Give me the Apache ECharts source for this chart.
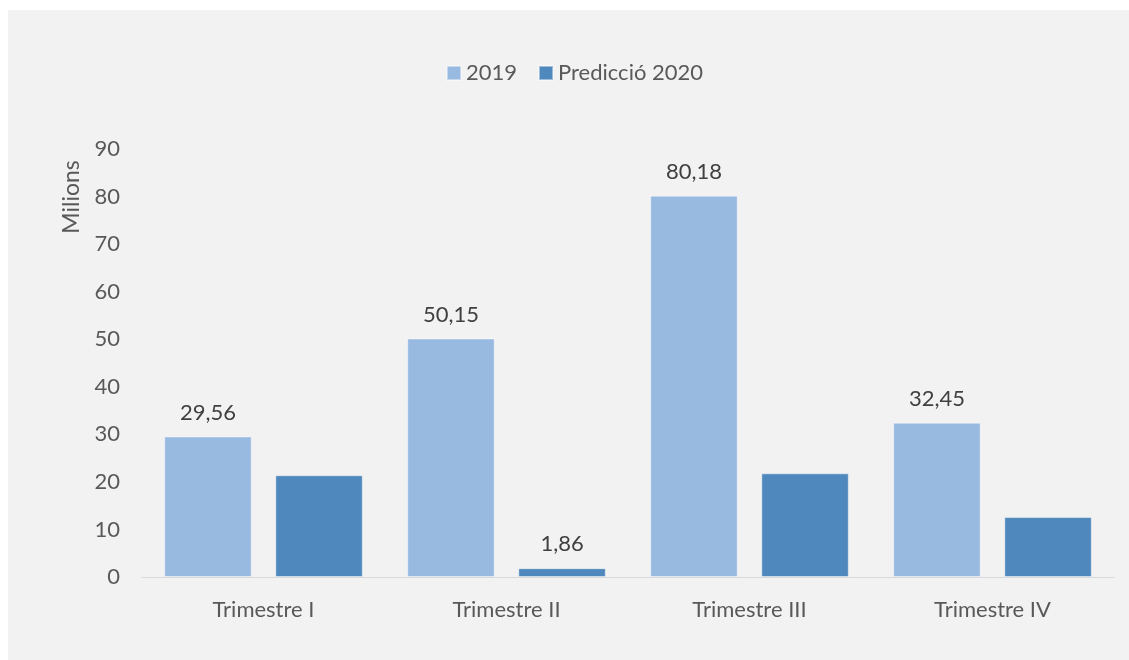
<!DOCTYPE html>
<html>
<head>
<meta charset="utf-8">
<script src="https://cdn.jsdelivr.net/npm/echarts@6/dist/echarts.min.js"></script>
<style>
  html, body { margin: 0; padding: 0; background: #ffffff; overflow: hidden; width: 100%; height: 100%; }
  #chart { position: absolute; left: 8px; top: 10px; right: 0; bottom: 0; }
</style>
</head>
<body>
<div id="chart"></div>
<script>
const categories = ['Trimestre I', 'Trimestre II', 'Trimestre III', 'Trimestre IV'];
const values2019 = [29.56, 50.15, 80.18, 32.45];
const values2020 = [21.4, 1.86, 21.8, 12.6];
const labeled2020 = [false, true, false, false];
const seriesNames = ['2019', 'Predicció 2020'];
const yTicks = [0, 10, 20, 30, 40, 50, 60, 70, 80, 90];
const yAxisTitle = 'Milions';

const FONT = 'Lato';
const FS = 22;
const fmt = v => String(v).replace('.', ',');

const chart = echarts.init(document.getElementById('chart'), null, { renderer: 'canvas' });
chart.setOption({
  backgroundColor: '#f2f2f2',
  textStyle: { fontFamily: FONT },
  legend: {
    top: 47,
    left: 433,
    itemWidth: 14,
    itemHeight: 14,
    itemGap: 21,
    icon: 'rect',
    textStyle: { fontFamily: FONT, fontSize: FS, color: '#595959' },
    data: seriesNames
  },
  grid: { left: 134, right: 15, top: 139, bottom: 83, containLabel: false },
  xAxis: {
    type: 'category',
    data: categories,
    axisLine: { lineStyle: { color: '#d9d9d9', width: 1 } },
    axisTick: { show: false },
    axisLabel: { fontFamily: FONT, fontSize: FS, color: '#595959', margin: 22 }
  },
  yAxis: {
    type: 'value',
    min: yTicks[0],
    max: yTicks[yTicks.length - 1],
    interval: yTicks[1] - yTicks[0],
    axisLine: { show: false },
    axisTick: { show: false },
    splitLine: { show: false },
    axisLabel: { fontFamily: FONT, fontSize: FS, color: '#595959', margin: 22 }
  },
  graphic: [{
    type: 'text',
    x: 64,
    y: 187,
    rotation: Math.PI / 2,
    style: {
      text: yAxisTitle,
      fontFamily: FONT,
      fontSize: 23,
      fill: '#595959',
      textAlign: 'center',
      textVerticalAlign: 'middle'
    }
  }],
  series: [
    {
      name: seriesNames[0],
      type: 'bar',
      data: values2019,
      barWidth: '36%',
      barGap: '27%',
      itemStyle: { color: '#98b9e0', borderColor: 'rgba(255,255,255,0.45)', borderWidth: 1 },
      label: {
        show: true,
        position: 'top',
        distance: 13,
        fontFamily: FONT,
        fontSize: FS,
        color: '#404040',
        formatter: p => fmt(p.value)
      }
    },
    {
      name: seriesNames[1],
      type: 'bar',
      data: values2020.map((v, i) => ({
        value: v,
        label: { show: labeled2020[i] }
      })),
      barWidth: '36%',
      barGap: '27%',
      itemStyle: { color: '#4f88bc', borderColor: 'rgba(255,255,255,0.45)', borderWidth: 1 },
      label: {
        show: false,
        position: 'top',
        distance: 13,
        fontFamily: FONT,
        fontSize: FS,
        color: '#404040',
        formatter: p => fmt(p.value)
      }
    }
  ]
});
</script>
</body>
</html>
